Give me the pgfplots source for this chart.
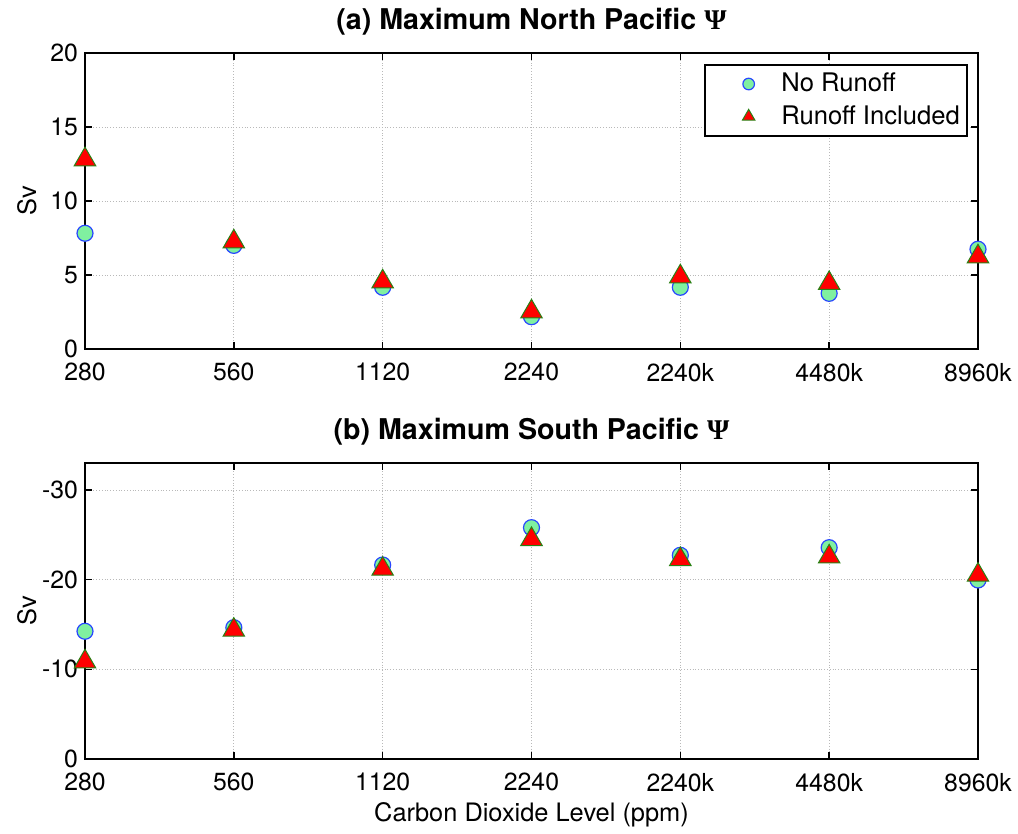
\documentclass[border=0pt]{standalone}
\usepackage{pgfplots}
\pgfplotsset{compat=1.18}
\usepackage{fontspec}
\setmainfont{TeX Gyre Heros}
\newfontfamily\psifont{Liberation Serif}
\definecolor{cfill}{RGB}{128,240,160}
\definecolor{cedge}{RGB}{40,70,255}
\definecolor{tfill}{RGB}{255,0,0}
\definecolor{tedge}{RGB}{40,130,20}
\pgfplotsset{
  myaxis/.style={
    scale only axis, width=446.5pt, height=148pt,
    xmin=0, xmax=6, xtick={0,1,2,3,4,5,6},
    xticklabels={280,560,1120,2240,2240k,4480k,8960k},
    clip=false,
    grid=major,
    major grid style={densely dotted, gray!55, line width=0.4pt},
    tick align=inside, tick pos=both,
    major tick length=3.5pt,
    every tick/.style={black, line width=0.8pt},
    axis line style={line width=1pt},
    tick label style={font=\fontsize{12.4}{14.8}\selectfont},
    xticklabel style={yshift=-3.5pt},
    title style={font=\bfseries\fontsize{14.3}{16}\selectfont, yshift=-0.5pt},
    ylabel style={font=\fontsize{12.7}{15}\selectfont, at={(axis description cs:-0.065,0.5)}, anchor=center},
    xlabel style={font=\fontsize{12.7}{15}\selectfont, at={(axis description cs:0.5,-0.19)}, anchor=center},
  },
  nor/.style={only marks, mark=*, mark size=4pt, mark options={fill=cfill, draw=cedge, line width=0.6pt},
    legend image post style={mark size=2.9pt}},
  run/.style={only marks, mark=triangle*, mark size=6.2pt, mark options={fill=tfill, draw=tedge, line width=0.5pt},
    legend image post style={mark size=3.6pt}},
}
\begin{document}
\begin{tikzpicture}
\begin{axis}[myaxis,
  ymin=0, ymax=20, ytick={0,5,10,15,20}, yticklabels={0,5,10,15,20},
  ylabel={Sv},
  title={(a) Maximum North Pacific {\psifont Ψ}},
  legend style={at={(0.9888,0.963)}, anchor=north east, draw=black, line width=0.8pt,
    font=\fontsize{12.8}{15}\selectfont, inner xsep=1.5pt, inner ysep=2pt, row sep=1pt,
    nodes={inner sep=2.2pt}},
  legend cell align=left,
  legend image code/.code={\path[draw=none,fill=none] (-0.21cm,0cm) rectangle (0.5cm,0cm); \draw[#1] plot coordinates {(0.5cm,0cm)};},
]
\addplot[nor] coordinates {(0,7.82) (1,7.0) (2,4.17) (3,2.18) (4,4.17) (5,3.76) (6,6.74)};
\addlegendentry{\hspace{11pt}No Runoff}
\addplot[run] coordinates {(0,12.8) (1,7.25) (2,4.55) (3,2.52) (4,4.89) (5,4.44) (6,6.24)};
\addlegendentry{\hspace{11pt}Runoff Included}
\end{axis}
\begin{axis}[myaxis, at={(0,-205pt)},
  y dir=reverse, ymin=-33, ymax=0, ytick={-30,-20,-10,0}, yticklabels={-30,-20,-10,0},
  ylabel={Sv}, xlabel={Carbon Dioxide Level (ppm)},
  title={(b) Maximum South Pacific {\psifont Ψ}},
]
\addplot[nor] coordinates {(0,-14.24) (1,-14.64) (2,-21.63) (3,-25.79) (4,-22.71) (5,-23.56) (6,-19.96)};
\addplot[run] coordinates {(0,-10.85) (1,-14.38) (2,-21.18) (3,-24.49) (4,-22.26) (5,-22.55) (6,-20.51)};
\end{axis}
\pgfresetboundingbox
\path (-42.5pt,-242.5pt) rectangle (466.5pt,174.5pt);
\end{tikzpicture}
\end{document}
